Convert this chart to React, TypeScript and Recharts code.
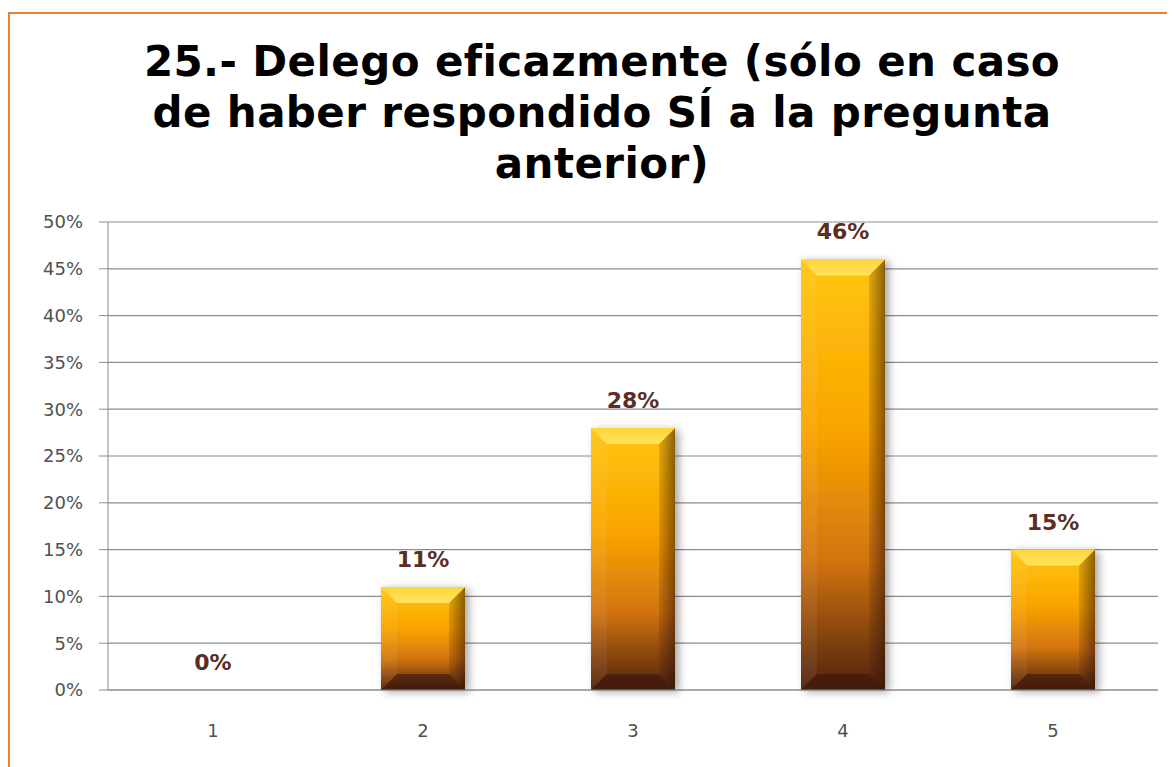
import React from 'react';
import { Bar, BarChart, CartesianGrid, LabelList, XAxis, YAxis } from 'recharts';

const categories = ['1', '2', '3', '4', '5'];
const percentages = [0, 11, 28, 46, 15];
const yTicks = [0, 5, 10, 15, 20, 25, 30, 35, 40, 45, 50];
const titleLines = [
  '25.- Delego eficazmente (sólo en caso',
  'de haber respondido SÍ a la pregunta',
  'anterior)',
];

const data = categories.map((name, i) => ({ name, value: percentages[i] }));

const BevelBar = (props: any) => {
  const { x, y, width, height } = props;
  if (!height || height <= 0) return null;
  const b = Math.min(16, height / 3, width / 4);
  return (
    <g filter="url(#barShadow)">
      <rect x={x} y={y} width={width} height={height} fill="url(#barBody)" />
      {/* left bevel */}
      <polygon
        points={`${x},${y} ${x + b},${y + b} ${x + b},${y + height - b} ${x},${y + height}`}
        fill="#ffffff"
        fillOpacity={0.06}
      />
      {/* right bevel */}
      <polygon
        points={`${x + width},${y} ${x + width - b},${y + b} ${x + width - b},${y + height - b} ${x + width},${y + height}`}
        fill="url(#barRight)"
      />
      {/* top bevel */}
      <polygon
        points={`${x},${y} ${x + width},${y} ${x + width - b},${y + b} ${x + b},${y + b}`}
        fill="url(#barTop)"
      />
      {/* bottom bevel */}
      <polygon
        points={`${x},${y + height} ${x + width},${y + height} ${x + width - b},${y + height - b} ${x + b},${y + height - b}`}
        fill="#3a1606"
        fillOpacity={0.6}
      />
    </g>
  );
};

export default function App() {
  return (
    <div
      style={{
        position: 'relative',
        marginTop: 4,
        width: 1180,
        height: 770,
        borderLeft: '2px solid #E8822E',
        borderTop: '2px solid #E8822E',
        background: '#ffffff',
        overflow: 'hidden',
      }}
    >
      <div
        style={{
          position: 'absolute',
          left: 0,
          top: 22,
          width: 1184,
          textAlign: 'center',
          fontFamily: '"DejaVu Sans", Verdana, sans-serif',
          fontWeight: 'bold',
          fontSize: 42,
          letterSpacing: 0.4,
          lineHeight: '51px',
          color: '#000000',
        }}
      >
        {titleLines.map((line) => (
          <div key={line}>{line}</div>
        ))}
      </div>
      <div style={{ position: 'absolute', left: 0, top: 0 }}>
        <BarChart
          width={1170}
          height={750}
          data={data}
          margin={{ top: 208, right: 22, bottom: 44, left: 28 }}
          barCategoryGap="30%"
        >
          <defs>
            <linearGradient id="barBody" x1="0" y1="0" x2="0" y2="1">
              <stop offset="0%" stopColor="#FFC60F" />
              <stop offset="40%" stopColor="#F9A400" />
              <stop offset="70%" stopColor="#D27410" />
              <stop offset="100%" stopColor="#4E220C" />
            </linearGradient>
            <linearGradient id="barTop" x1="0" y1="0" x2="0" y2="1">
              <stop offset="0%" stopColor="#FFD43A" />
              <stop offset="100%" stopColor="#FFE45C" />
            </linearGradient>
            <linearGradient id="barRight" x1="0" y1="0" x2="1" y2="0">
              <stop offset="0%" stopColor="#3a1800" stopOpacity={0.15} />
              <stop offset="100%" stopColor="#2a1000" stopOpacity={0.55} />
            </linearGradient>
            <filter id="barShadow" x="-20%" y="-10%" width="150%" height="130%">
              <feDropShadow dx="4" dy="2" stdDeviation="4" floodColor="#000000" floodOpacity="0.35" />
            </filter>
          </defs>
          <CartesianGrid vertical={false} stroke="#8c8c8c" strokeWidth={1.2} />
          <XAxis
            dataKey="name"
            height={30}
            stroke="#8c8c8c"
            tickLine={false}
            tickMargin={28}
            tick={{ fill: '#505050', fontSize: 18, fontFamily: 'Tahoma, "DejaVu Sans", sans-serif' }}
          />
          <YAxis
            width={70}
            domain={[0, 50]}
            ticks={yTicks}
            interval={0}
            tickFormatter={(v: number) => `${v}%`}
            stroke="#8c8c8c"
            tickSize={9}
            tickMargin={16}
            tick={{ fill: '#505050', fontSize: 18, fontFamily: 'Tahoma, "DejaVu Sans", sans-serif' }}
          />
          <Bar dataKey="value" shape={<BevelBar />} isAnimationActive={false}>
            <LabelList
              dataKey="value"
              position="top"
              offset={20}
              formatter={(v: number) => `${v}%`}
              style={{
                fill: '#5A2E22',
                fontSize: 22,
                fontWeight: 'bold',
                fontFamily: '"DejaVu Sans", Verdana, sans-serif',
              }}
            />
          </Bar>
        </BarChart>
      </div>
    </div>
  );
}
